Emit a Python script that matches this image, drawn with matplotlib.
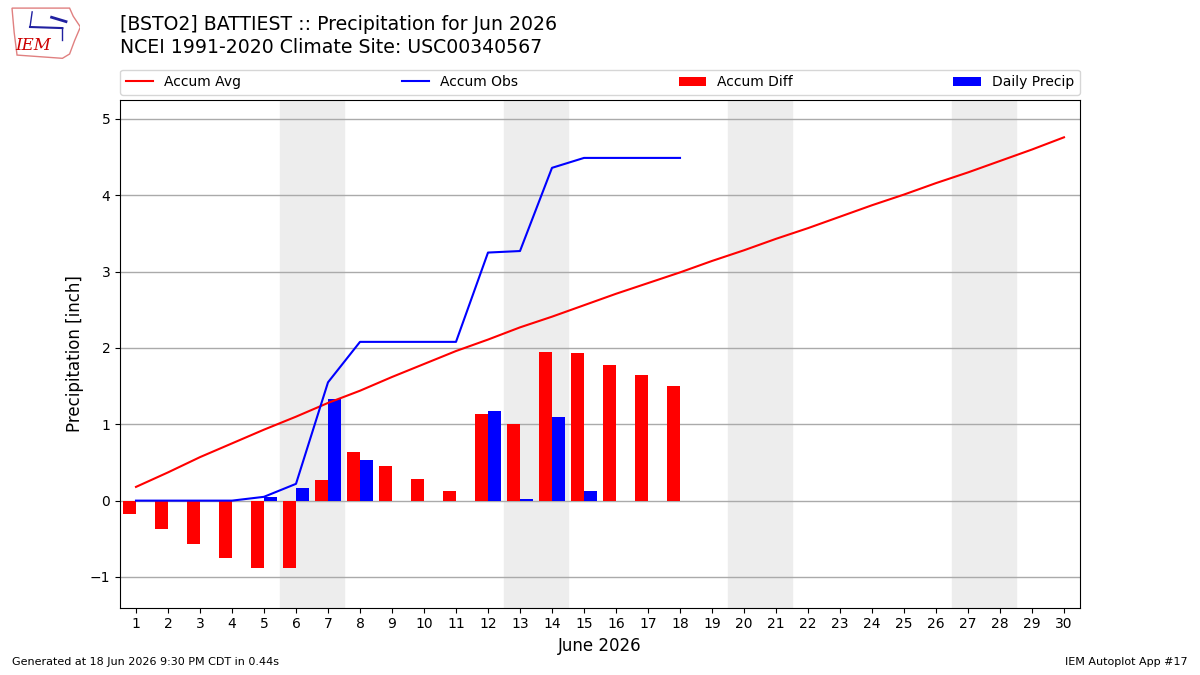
import numpy as np
import matplotlib.pyplot as plt
from matplotlib.patches import Polygon

days = np.arange(1, 31)
accum_avg = [0.18, 0.37, 0.57, 0.75, 0.93, 1.10, 1.28, 1.44, 1.62, 1.79,
             1.96, 2.11, 2.27, 2.41, 2.56, 2.71, 2.85, 2.99, 3.14, 3.28,
             3.43, 3.57, 3.72, 3.87, 4.01, 4.16, 4.30, 4.45, 4.60, 4.76]
obs_days = np.arange(1, 19)
daily_precip = [0.00, 0.00, 0.00, 0.00, 0.05, 0.17, 1.33, 0.53, 0.00, 0.00,
                0.00, 1.17, 0.02, 1.09, 0.13, 0.00, 0.00, 0.00]
weekends = [6, 13, 20, 27]

accum_obs = np.cumsum(daily_precip)
accum_diff = accum_obs - np.array(accum_avg[:len(obs_days)])

fig = plt.figure(figsize=(12, 6.75), dpi=100)
ax = fig.add_axes([0.1, 0.1, 0.8, 0.752])

for d in weekends:
    ax.axvspan(d - 0.5, d + 1.5, color='#ededed', zorder=0)

ax.plot(days, accum_avg, color='r', label='Accum Avg', zorder=3)
ax.plot(obs_days, accum_obs, color='b', label='Accum Obs', zorder=3)
ax.bar(obs_days, accum_diff, width=-0.4, align='edge', color='r',
       label='Accum Diff', zorder=2)
ax.bar(obs_days, daily_precip, width=0.4, align='edge', color='b',
       label='Daily Precip', zorder=2)

ax.set_xlim(0.5, 30.5)
ax.set_ylim(-1.4, 5.25)
ax.set_xticks(days)
ax.set_yticks(range(-1, 6))
ax.yaxis.grid(True, color='#aaaaaa', linewidth=1)
ax.set_axisbelow(True)
ax.set_ylabel('Precipitation [inch]', fontsize=12)
ax.set_xlabel('June 2026', fontsize=12)
ax.legend(loc='lower left', bbox_to_anchor=(0, 1.01, 1, 0.05), mode='expand',
          ncol=4, fontsize=10, borderaxespad=0)

fig.text(0.1, 0.963, '[BSTO2] BATTIEST :: Precipitation for Jun 2026',
         fontsize=13.6, va='center')
fig.text(0.1, 0.929, 'NCEI 1991-2020 Climate Site: USC00340567',
         fontsize=13.6, va='center')
fig.text(0.01, 0.015, 'Generated at 18 Jun 2026 9:30 PM CDT in 0.44s',
         fontsize=8)
fig.text(0.99, 0.015, 'IEM Autoplot App #17', fontsize=8, ha='right')

# rough IEM logo
logo = fig.add_axes([0.007, 0.912, 0.06, 0.08])
logo.axis('off')
logo.set_xlim(0, 1)
logo.set_ylim(0, 1)
logo.add_patch(Polygon([[0.05, 0.95], [0.85, 0.95], [0.9, 0.8], [1.0, 0.6],
                        [0.92, 0.35], [0.85, 0.1], [0.75, 0.02], [0.12, 0.08],
                        [0.08, 0.5]], closed=True, fill=False,
                       edgecolor='#e08080', linewidth=1))
logo.text(0.35, 0.25, 'IEM', color='#cc0000', fontsize=12, family='serif',
          style='italic', ha='center', va='center')
logo.plot([0.3, 0.75], [0.6, 0.58], color='#2020a0', linewidth=1.5)
logo.plot([0.3, 0.33], [0.6, 0.88], color='#2020a0', linewidth=1)
logo.plot([0.75, 0.75], [0.58, 0.35], color='#2020a0', linewidth=1)
logo.plot([0.6, 0.8], [0.78, 0.7], color='#2020a0', linewidth=2)

fig.savefig('out.png', dpi=100)
